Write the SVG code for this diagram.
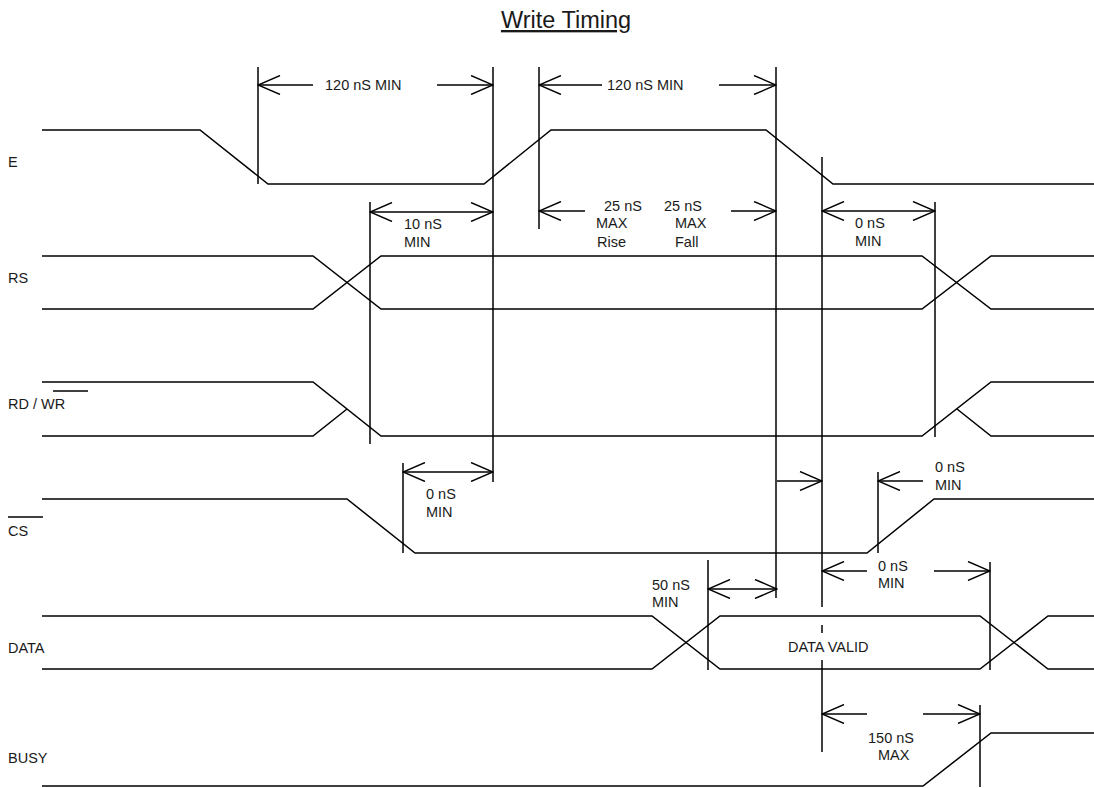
<svg xmlns="http://www.w3.org/2000/svg" width="1094" height="788" viewBox="0 0 1094 788">
<defs>
<style>
.s{fill:none;stroke:#000;stroke-width:1.5}
.v{fill:none;stroke:#000;stroke-width:1.5}
.a{fill:none;stroke:#000;stroke-width:1.4}
text{font-family:"Liberation Sans",Arial,sans-serif;font-size:14.5px;fill:#1a1a1a}
.t{font-size:23.5px;text-decoration:underline}
</style>
<marker id="ah" viewBox="-23 -10 24 20" refX="0" refY="0" markerWidth="24" markerHeight="20" markerUnits="userSpaceOnUse" orient="auto-start-reverse">
<path d="M-22,-9.5 L0,0 L-22,9.5" fill="none" stroke="#000" stroke-width="1.4"/>
</marker>
</defs>
<rect width="1094" height="788" fill="#fff"/>
<text class="t" x="566" y="28" text-anchor="middle">Write Timing</text>

<g id="sig-E">
<text x="8" y="167">E</text>
<polyline class="s" points="42,130 200,130 268,184 484,184 551,130 766,130 833,184 1094,184"/>
</g>
<g id="sig-RS">
<text x="8" y="283">RS</text>
<polyline class="s" points="42,256 313,256 381,309 922,309 991,256 1094,256"/>
<polyline class="s" points="42,309 313,309 381,256 922,256 991,309 1094,309"/>
</g>
<g id="sig-RDWR">
<text x="8" y="409">RD / WR</text>
<line class="a" x1="53" y1="391" x2="88" y2="391"/>
<polyline class="s" points="42,382 313,382 381,436 922,436 991,382 1094,382"/>
<polyline class="s" points="42,436 313,436 347,409"/>
<polyline class="s" points="957,409 991,436 1094,436"/>
</g>
<g id="sig-CS">
<text x="8" y="536">CS</text>
<line class="a" x1="8" y1="517" x2="43" y2="517"/>
<polyline class="s" points="42,499 347,499 415,553 867,553 934,499 1094,499"/>
</g>
<g id="sig-DATA">
<text x="8" y="653">DATA</text>
<polyline class="s" points="42,616 652,616 720,669 980,669 1048,616 1094,616"/>
<polyline class="s" points="42,669 652,669 720,616 980,616 1048,669 1094,669"/>
<text x="788" y="652">DATA VALID</text>
</g>
<g id="sig-BUSY">
<text x="8" y="763">BUSY</text>
<polyline class="s" points="42,786 923,786 991,733 1094,733"/>
</g>

<g id="connectors">
<line class="v" x1="258" y1="67" x2="258" y2="184"/>
<line class="v" x1="493" y1="67" x2="493" y2="482"/>
<line class="v" x1="539" y1="67" x2="539" y2="229"/>
<line class="v" x1="776" y1="67" x2="776" y2="598"/>
<line class="v" x1="822" y1="157" x2="822" y2="607"/>
<line class="v" x1="822" y1="625" x2="822" y2="633"/>
<line class="v" x1="822" y1="660" x2="822" y2="752"/>
<line class="v" x1="370" y1="202" x2="370" y2="444"/>
<line class="v" x1="935" y1="202" x2="935" y2="437"/>
<line class="v" x1="403" y1="463" x2="403" y2="553"/>
<line class="v" x1="878" y1="472" x2="878" y2="553"/>
<line class="v" x1="708" y1="560" x2="708" y2="670"/>
<line class="v" x1="990" y1="562" x2="990" y2="670"/>
<line class="v" x1="980" y1="705" x2="980" y2="787"/>

<line class="a" x1="313" y1="85" x2="258" y2="85" marker-end="url(#ah)"/>
<line class="a" x1="437" y1="85" x2="493" y2="85" marker-end="url(#ah)"/>
<text x="325" y="90">120 nS MIN</text>

<line class="a" x1="602" y1="85" x2="539" y2="85" marker-end="url(#ah)"/>
<line class="a" x1="719" y1="85" x2="776" y2="85" marker-end="url(#ah)"/>
<text x="607" y="90">120 nS MIN</text>

<line class="a" x1="370" y1="212" x2="493" y2="212" marker-start="url(#ah)" marker-end="url(#ah)"/>
<text x="404" y="229">10 nS</text>
<text x="404" y="247">MIN</text>

<line class="a" x1="585" y1="211" x2="539" y2="211" marker-end="url(#ah)"/>
<line class="a" x1="731" y1="211" x2="776" y2="211" marker-end="url(#ah)"/>
<text x="604" y="211">25 nS</text>
<text x="596" y="228">MAX</text>
<text x="597" y="247">Rise</text>
<text x="664" y="211">25 nS</text>
<text x="675" y="228">MAX</text>
<text x="675" y="247">Fall</text>

<line class="a" x1="822" y1="211" x2="935" y2="211" marker-start="url(#ah)" marker-end="url(#ah)"/>
<text x="855" y="228">0 nS</text>
<text x="855" y="246">MIN</text>

<line class="a" x1="403" y1="472" x2="493" y2="472" marker-start="url(#ah)" marker-end="url(#ah)"/>
<text x="426" y="499">0 nS</text>
<text x="426" y="517">MIN</text>

<line class="a" x1="777" y1="481" x2="822" y2="481" marker-end="url(#ah)"/>
<line class="a" x1="923" y1="481" x2="878" y2="481" marker-end="url(#ah)"/>
<text x="935" y="472">0 nS</text>
<text x="935" y="490">MIN</text>

<line class="a" x1="708" y1="589" x2="777" y2="589" marker-start="url(#ah)" marker-end="url(#ah)"/>
<text x="652" y="590">50 nS</text>
<text x="652" y="607">MIN</text>

<line class="a" x1="867" y1="571" x2="822" y2="571" marker-end="url(#ah)"/>
<line class="a" x1="934" y1="571" x2="990" y2="571" marker-end="url(#ah)"/>
<text x="878" y="571">0 nS</text>
<text x="878" y="588">MIN</text>

<line class="a" x1="867" y1="714" x2="822" y2="714" marker-end="url(#ah)"/>
<line class="a" x1="923" y1="714" x2="980" y2="714" marker-end="url(#ah)"/>
<text x="868" y="743">150 nS</text>
<text x="878" y="760">MAX</text>
</g>
</svg>
